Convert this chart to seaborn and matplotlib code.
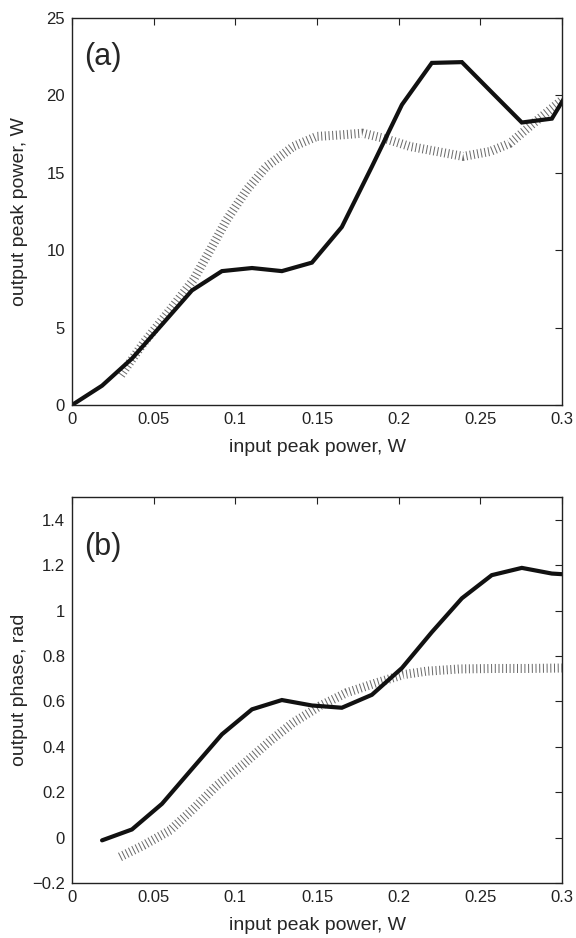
import matplotlib
matplotlib.use("Agg")
import numpy as np
import pandas as pd
import matplotlib.pyplot as plt
import seaborn as sns
from matplotlib.ticker import FuncFormatter

sns.set_style("white")
plt.rcParams["font.family"] = ["Liberation Sans", "DejaVu Sans"]
plt.rcParams["axes.unicode_minus"] = True

# panel (a): output peak power vs input peak power
x_a_solid = [0.0, 0.0184, 0.0367, 0.0551, 0.0734, 0.0918, 0.1102, 0.1285, 0.1469, 0.1652,
             0.1836, 0.2020, 0.2203, 0.2387, 0.2570, 0.2754, 0.2938, 0.3121]
y_a_solid = [0.0, 1.25, 3.0, 5.2, 7.4, 8.65, 8.85, 8.65, 9.2, 11.5,
             15.4, 19.4, 22.1, 22.15, 20.2, 18.25, 18.5, 21.7]
x_a_dot = [0.030, 0.0437, 0.060, 0.0743, 0.0845, 0.0947, 0.107, 0.119, 0.1355, 0.1498,
           0.166, 0.178, 0.1906, 0.207, 0.2233, 0.2396, 0.256, 0.268, 0.2825, 0.300]
y_a_dot = [1.94, 3.99, 6.14, 8.08, 10.0, 11.96, 13.9, 15.4, 16.7, 17.35,
           17.46, 17.56, 17.24, 16.7, 16.38, 16.06, 16.38, 16.9, 18.2, 19.7]

# panel (b): output phase vs input peak power
x_b_solid = [0.0184, 0.0367, 0.0551, 0.0734, 0.0918, 0.1102, 0.1285, 0.1469, 0.1652,
             0.1836, 0.2020, 0.2203, 0.2387, 0.2570, 0.2754, 0.2938, 0.3121]
y_b_solid = [-0.012, 0.036, 0.149, 0.302, 0.455, 0.565, 0.606, 0.582, 0.572,
             0.629, 0.747, 0.905, 1.054, 1.156, 1.188, 1.163, 1.155]
x_b_dot = [0.0294, 0.0437, 0.060, 0.0743, 0.0886, 0.105, 0.1213, 0.1355, 0.1518, 0.168,
           0.1865, 0.2029, 0.217, 0.2376, 0.258, 0.2784, 0.300]
y_b_dot = [-0.085, -0.034, 0.032, 0.127, 0.229, 0.324, 0.426, 0.507, 0.58, 0.638,
           0.682, 0.718, 0.733, 0.743, 0.745, 0.745, 0.747]

fig = plt.figure(figsize=(5.76, 9.38), dpi=100)
ax_a = fig.add_axes([0.125, 0.5682, 0.8507, 0.4126])
ax_b = fig.add_axes([0.125, 0.0586, 0.8507, 0.4115])

fmt = FuncFormatter(lambda v, p: ("%g" % round(v, 6)).replace("-", "\u2212"))

def draw(ax, xs, ys, xd, yd):
    sns.lineplot(x=xd, y=yd, ax=ax, color="#6a6a6a", linewidth=6.5,
                 linestyle=(0, (0.11, 0.3)), dash_capstyle="butt", sort=False)
    sns.lineplot(x=xs, y=ys, ax=ax, color="#111111", linewidth=3,
                 solid_joinstyle="miter", sort=False)

draw(ax_a, x_a_solid, y_a_solid, x_a_dot, y_a_dot)
draw(ax_b, x_b_solid, y_b_solid, x_b_dot, y_b_dot)

ax_a.set_xlim(0, 0.3)
ax_a.set_ylim(0, 25)
ax_a.set_yticks([0, 5, 10, 15, 20, 25])
ax_a.set_ylabel("output peak power, W", fontsize=14)
ax_a.text(0.025, 0.9, "(a)", transform=ax_a.transAxes, fontsize=22, va="center", ha="left")

ax_b.set_xlim(0, 0.3)
ax_b.set_ylim(-0.2, 1.5)
ax_b.set_yticks([-0.2, 0, 0.2, 0.4, 0.6, 0.8, 1.0, 1.2, 1.4])
ax_b.set_ylabel("output phase, rad", fontsize=14)
ax_b.text(0.025, 0.87, "(b)", transform=ax_b.transAxes, fontsize=22, va="center", ha="left")

for ax in (ax_a, ax_b):
    ax.set_xticks([0, 0.05, 0.1, 0.15, 0.2, 0.25, 0.3])
    ax.xaxis.set_major_formatter(fmt)
    ax.yaxis.set_major_formatter(fmt)
    ax.set_xlabel("input peak power, W", fontsize=14, labelpad=9)
    ax.yaxis.set_label_coords(-0.09, 0.5)
    ax.tick_params(direction="in", length=5, width=0.8, top=True, right=True,
                   labelsize=12, colors="#222222", pad=5)
    for s in ax.spines.values():
        s.set_visible(True)
        s.set_color("#222222")
        s.set_linewidth(1.0)

fig.savefig("out.png", dpi=100)
plt.close("all")
